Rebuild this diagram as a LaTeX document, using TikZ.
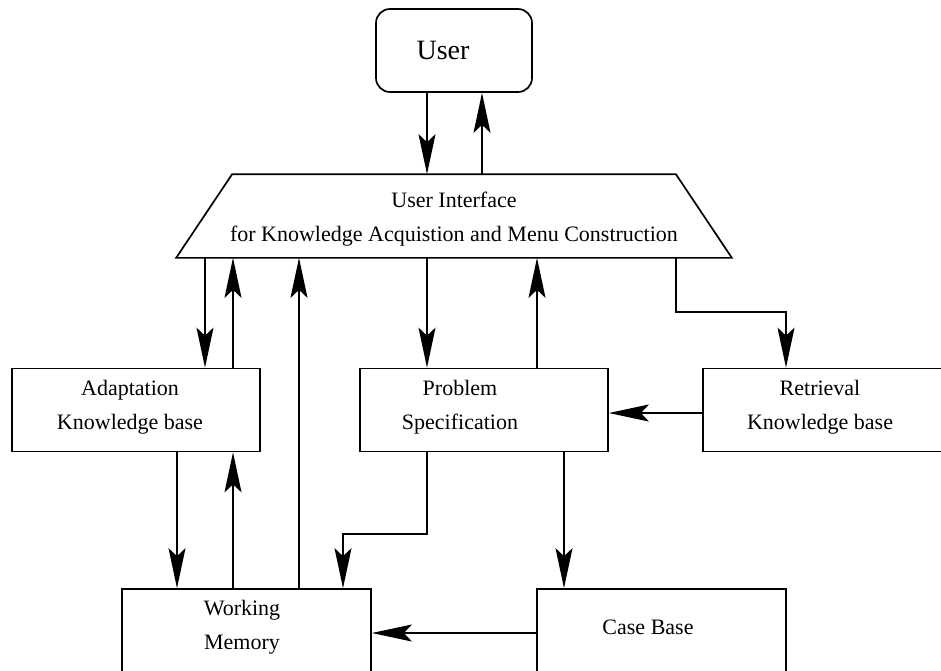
\documentclass[tikz,border=0pt]{standalone}
\usepackage{fontspec}
\setmainfont{Liberation Serif}
\usetikzlibrary{arrows.meta}
\begin{document}
\begin{tikzpicture}[x=1pt,y=-1pt,line width=1.7pt,
    box/.style={draw,minimum width=248pt,minimum height=83pt,inner sep=0pt},
    lbl/.style={align=center,font=\fontsize{22}{34}\selectfont},
    arr/.style={-{Stealth[length=40pt,width=17pt,inset=8pt]}}]
  \useasboundingbox (0,0) rectangle (941,670);
  \clip (0,0) rectangle (941,670);
  % boxes
  \node[box,rounded corners=14pt,minimum width=156pt] (user) at (454,50.5) {};
  \node[minimum width=554pt,minimum height=82pt,inner sep=0pt] (ui) at (454,216) {};
  \draw (ui.south west) -- ([xshift=56pt]ui.north west)
    -- ([xshift=-56pt]ui.north east) -- (ui.south east) -- cycle;
  \node[box] (ad) at (136,410) {};
  \node[box] (prob) at (484,410) {};
  \node[box] (ret) at (827,410) {};
  \node[box,minimum width=249pt] (wm) at (246.5,630.5) {};
  \node[box,minimum width=249pt] (cb) at (661.5,630.5) {};
  % texts
  \node[lbl,font=\fontsize{28}{34}\selectfont] (usertxt) at (443,50) {User};
  \node[lbl] (uitxt) at (454,219) {User Interface\\for Knowledge Acquistion and Menu Construction};
  \node[lbl] (adtxt) at (130,407) {Adaptation\\Knowledge base};
  \node[lbl] (probtxt) at (460,407) {Problem\\Specification};
  \node[lbl] (rettxt) at (820,407) {Retrieval\\Knowledge base};
  \node[lbl] (wmtxt) at (242,627) {Working\\Memory};
  \node[lbl] (cbtxt) at (648,627) {Case Base};
  % bends
  \coordinate (rbend) at (786,312);
  \coordinate (wbend) at (343,534);
  \begin{scope}[arr]
    \draw (user.south -| 427,0) -- (ui.north -| 427,0);
    \draw (ui.north -| 482,0) -- (user.south -| 482,0);
    \draw (ui.south -| 205,0) -- (ad.north -| 205,0);
    \draw (ad.north -| 233,0) -- (ui.south -| 233,0);
    \draw (wm.north -| 299,0) -- (ui.south -| 299,0);
    \draw (ui.south -| 427,0) -- (prob.north -| 427,0);
    \draw (prob.north -| 537,0) -- (ui.south -| 537,0);
    \draw (ui.south -| 676,0) |- (rbend) -- (ret.north -| rbend);
    \draw (ret.west |- 0,413) -- (prob.east |- 0,413);
    \draw (ad.south -| 177,0) -- (wm.north -| 177,0);
    \draw (wm.north -| 233,0) -- (ad.south -| 233,0);
    \draw (prob.south -| 427,0) |- (wbend) -- (wm.north -| wbend);
    \draw (prob.south -| 564,0) -- (cb.north -| 564,0);
    \draw (cb.west |- 0,633) -- (wm.east |- 0,633);
  \end{scope}
\end{tikzpicture}
\end{document}
